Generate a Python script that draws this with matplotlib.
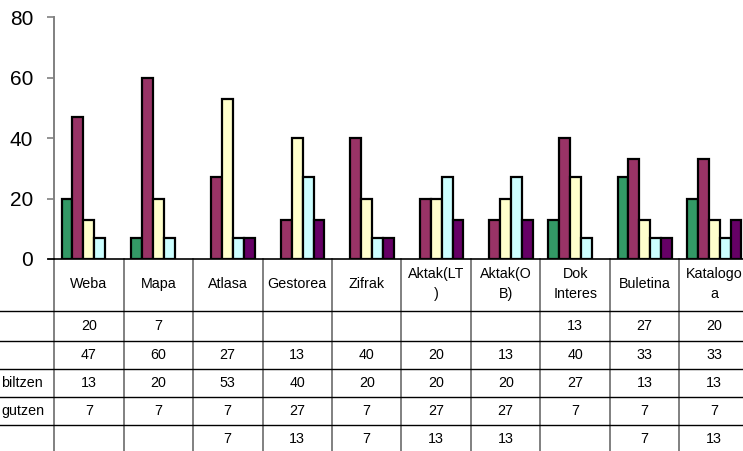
# Survey results per information source, Excel-style clustered columns with a data table
import matplotlib.pyplot as plt
import numpy as np
from matplotlib.transforms import blended_transform_factory

plt.rcParams['font.family'] = ['Liberation Sans', 'DejaVu Sans']

categories = ["Weba", "Mapa", "Atlasa", "Gestorea", "Zifrak", "Aktak(LT\n)",
              "Aktak(O\nB)", "Dok\nInteres", "Buletina", "Katalogo\na"]
row_labels = ["", "", "biltzen", "gutzen", ""]
s1 = [20, 7, None, None, None, None, None, 13, 27, 20]
s2 = [47, 60, 27, 13, 40, 20, 13, 40, 33, 33]
s3 = [13, 20, 53, 40, 20, 20, 20, 27, 13, 13]
s4 = [7, 7, 7, 27, 7, 27, 27, 7, 7, 7]
s5 = [None, None, 7, 13, 7, 13, 13, None, 7, 13]
series = [s1, s2, s3, s4, s5]
colors = ["#339966", "#993366", "#FFFFCC", "#CCFFFF", "#660066"]

W, H = 743, 451
fig = plt.figure(figsize=(W / 100, H / 100), dpi=100)
x0, y_zero, y_top = 54, 259, 17.5
col_w = 69.5
ax = fig.add_axes([x0 / W, (H - y_zero) / H, 10 * col_w / W, (y_zero - y_top) / H])

x = np.arange(len(categories))
bw = 0.156
for i, (vals, c) in enumerate(zip(series, colors)):
    # empty cells get no bar at all
    h = [v if v is not None else np.nan for v in vals]
    ax.bar(x + (i - 2) * bw, h, width=bw, color=c, edgecolor="black",
           linewidth=1.6, zorder=3)

ax.set_xlim(-0.5, len(categories) - 0.5)
ax.set_ylim(0, 80)
ax.set_yticks([0, 20, 40, 60, 80])
ax.set_xticks([])
for s in ["top", "right"]:
    ax.spines[s].set_visible(False)
ax.spines["left"].set_color("#808080")
ax.spines["left"].set_linewidth(1.4)
ax.spines["bottom"].set_color("black")
ax.spines["bottom"].set_linewidth(1.2)
ax.tick_params(axis="y", length=5, width=1.2, color="#808080", labelsize=15, pad=10)

# data table under the plot, x in data units, y in figure pixels from the top
tr = blended_transform_factory(ax.transData, fig.transFigure)
fy = lambda py: (H - py) / H
row_lines = [311, 341, 369, 397, 425]
row_mid = [326, 355, 383, 411, 439]

for py in row_lines:
    fig.add_artist(plt.Line2D([0, 1], [fy(py), fy(py)], transform=fig.transFigure,
                              color="black", linewidth=1.0))
for k in range(len(categories) + 1):
    ax.plot([k - 0.5, k - 0.5], [fy(y_zero), fy(H + 5)], transform=tr, color="#808080",
            linewidth=1.4, clip_on=False)
fig.add_artist(plt.Line2D([(x0 - 6) / W, x0 / W], [fy(y_zero), fy(y_zero)],
                          transform=fig.transFigure, color="black", linewidth=1.2))

for j, name in enumerate(categories):
    ax.text(j, fy(284), name, transform=tr, ha="center", va="center", fontsize=10.3,
            linespacing=1.6, clip_on=False)
    for r, vals in enumerate(series):
        if vals[j] is not None:
            ax.text(j, fy(row_mid[r]), str(vals[j]), transform=tr, ha="center",
                    va="center", fontsize=10.3, clip_on=False)

label_right = [43, 43, 43, 45, 43]
for r, lab in enumerate(row_labels):
    if lab:
        fig.text(label_right[r] / W, fy(row_mid[r]), lab, ha="right", va="center",
                 fontsize=10.3)

fig.savefig("out.png", dpi=100, facecolor="white")
